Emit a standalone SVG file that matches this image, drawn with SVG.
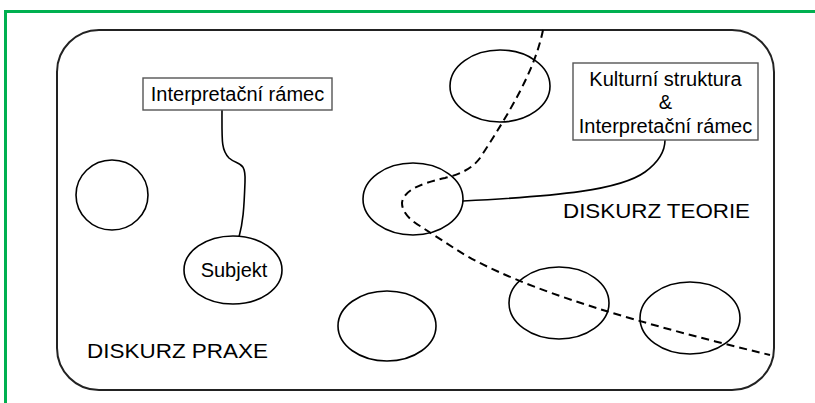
<svg xmlns="http://www.w3.org/2000/svg" width="815" height="403" viewBox="0 0 815 403">
  <style>
    .frame { fill: none; stroke: #00b050; stroke-width: 3; }
    .area { fill: #ffffff; stroke: #222222; stroke-width: 2; }
    .node { fill: #ffffff; stroke: #000000; stroke-width: 1.6; }
    .box { fill: #ffffff; stroke: #555555; stroke-width: 1.4; }
    .link { fill: none; stroke: #000000; stroke-width: 1.6; }
    .border { fill: none; stroke: #000000; stroke-width: 2; stroke-dasharray: 8 5; }
    text { font-family: "Liberation Sans", Arial, sans-serif; fill: #000000; }
    .lbl { font-size: 20px; text-anchor: middle; }
    .zone { font-size: 21px; }
  </style>

  <rect x="0" y="0" width="815" height="403" fill="#ffffff"/>
  <!-- outer green frame (open to the right and bottom) -->
  <path class="frame" d="M5.5,403 L5.5,11.5 L815,11.5"/>

  <!-- discourse area -->
  <rect id="area" class="area" x="57" y="30" width="717" height="360" rx="42" ry="42"/>

  <!-- dividing boundary between practice and theory -->
  <path id="boundary" class="border" d="M543,30 C535,70 510,112 480,158 Q470,172 445,178 Q403,187 402,203 Q402,215 420,226 L457,250 C520,290 650,326 770,355"/>

  <g id="connectors">
    <path class="link" d="M222,110 C222,140 221,150 229,158 C238,166 246,160 245,182 C244,210 243,222 239,237"/>
    <path class="link" d="M463,201 C560,196 620,190 645,172 C660,161 665,150 665,140"/>
  </g>

  <g id="node-e1"><ellipse class="node" cx="112" cy="195" rx="36" ry="35" fill-opacity="0"/></g>
  <g id="node-subjekt">
    <ellipse class="node" cx="233" cy="270" rx="49" ry="34"/>
    <text class="lbl" x="234" y="277">Subjekt</text>
  </g>
  <g id="node-e2"><ellipse class="node" cx="500" cy="86" rx="50" ry="36" style="fill:none"/></g>
  <g id="node-e3"><ellipse class="node" cx="413" cy="199" rx="50" ry="36" style="fill:none"/></g>
  <g id="node-e4"><ellipse class="node" cx="387" cy="326" rx="49" ry="35"/></g>
  <g id="node-e5"><ellipse class="node" cx="559" cy="303" rx="50" ry="36" style="fill:none"/></g>
  <g id="node-e6"><ellipse class="node" cx="690" cy="318" rx="50" ry="36" style="fill:none"/></g>

  <g id="node-ramec">
    <rect class="box" x="143" y="78" width="189" height="32"/>
    <text class="lbl" x="237.5" y="101">Interpretační rámec</text>
  </g>

  <g id="node-kultura">
    <rect class="box" x="573" y="63" width="185" height="77"/>
    <text class="lbl" x="665.5" y="86">Kulturní struktura</text>
    <text class="lbl" x="665.5" y="109">&amp;</text>
    <text class="lbl" x="665.5" y="133">Interpretační rámec</text>
  </g>

  <text class="zone" x="563" y="218" textLength="187" lengthAdjust="spacingAndGlyphs">DISKURZ TEORIE</text>
  <text class="zone" x="87" y="358" textLength="181" lengthAdjust="spacingAndGlyphs">DISKURZ PRAXE</text>
</svg>
